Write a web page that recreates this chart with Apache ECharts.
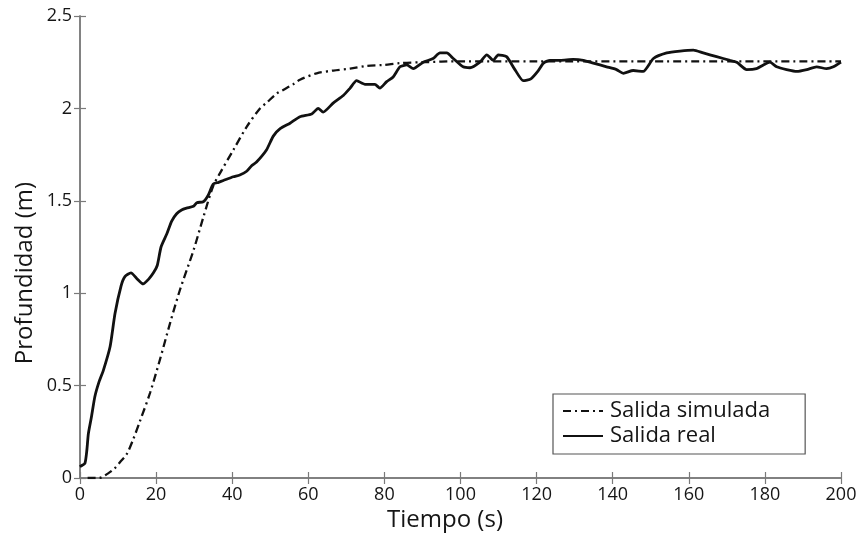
<!DOCTYPE html>
<html>
<head>
<meta charset="utf-8">
<script src="https://cdn.jsdelivr.net/npm/echarts@6/dist/echarts.min.js"></script>
<style>
html,body{margin:0;padding:0;background:#fff;}
#chart{width:863px;height:536px;}
</style>
</head>
<body>
<div id="chart"></div>
<script>
// Data
var timeReal = [0, 0.3, 1.3, 1.8, 2.2, 3, 3.9, 5, 6.1, 7.9, 9.2, 10.8, 11.8, 13.4, 14.9, 16.6, 18, 19.3, 20.3, 21.3, 22.8, 24.1, 25.4, 26.7, 28, 29.8, 30.7, 32.4, 33.7, 35, 36.4, 37.7, 40.3, 42, 43.8, 45.1, 46.4, 49, 50.8, 52.6, 55.2, 57.8, 60.9, 62.6, 63.9, 66.6, 69.2, 71, 72.7, 74.9, 77.5, 78.8, 80.6, 82.3, 84.1, 85.9, 87.6, 90.2, 92.8, 94.6, 96.4, 98.1, 100.7, 102.5, 105.1, 106.9, 108.6, 109.9, 112.1, 114.3, 116.5, 118.5, 120.3, 121.8, 123.5, 126.2, 129.6, 132.3, 134.9, 138.4, 141, 142.8, 145.4, 148, 150.7, 154.2, 157.7, 161.2, 163.8, 167.3, 170.8, 172.6, 175.2, 177.8, 179.6, 181.3, 183.1, 185.7, 188.4, 191, 193.6, 196.2, 198, 200];
var depthReal = [0.06, 0.065, 0.08, 0.15, 0.24, 0.33, 0.44, 0.52, 0.58, 0.71, 0.89, 1.04, 1.09, 1.11, 1.08, 1.05, 1.075, 1.11, 1.15, 1.25, 1.32, 1.39, 1.43, 1.45, 1.46, 1.47, 1.49, 1.495, 1.53, 1.59, 1.60, 1.61, 1.63, 1.64, 1.66, 1.69, 1.71, 1.775, 1.85, 1.89, 1.92, 1.955, 1.97, 2.0, 1.98, 2.03, 2.07, 2.11, 2.15, 2.13, 2.13, 2.11, 2.145, 2.17, 2.225, 2.235, 2.215, 2.25, 2.27, 2.30, 2.30, 2.27, 2.225, 2.22, 2.25, 2.29, 2.26, 2.29, 2.28, 2.21, 2.15, 2.16, 2.20, 2.245, 2.26, 2.26, 2.265, 2.26, 2.245, 2.225, 2.21, 2.19, 2.205, 2.20, 2.27, 2.30, 2.31, 2.315, 2.30, 2.28, 2.26, 2.25, 2.21, 2.215, 2.235, 2.25, 2.225, 2.21, 2.20, 2.21, 2.225, 2.215, 2.225, 2.25];
var timeSim = [2, 5, 7.4, 9, 10.5, 12.3, 14, 15.8, 18.4, 21, 23.7, 26.3, 29.8, 32.4, 35, 36.8, 40.3, 43.8, 47.3, 49, 51.7, 53.4, 56, 57.8, 62.2, 66.6, 71, 75.3, 79.7, 84.1, 90, 100, 120, 150, 200];
var depthSim = [0, 0, 0.025, 0.05, 0.085, 0.13, 0.21, 0.31, 0.46, 0.64, 0.84, 1.02, 1.23, 1.41, 1.58, 1.65, 1.775, 1.9, 2.0, 2.03, 2.08, 2.10, 2.13, 2.155, 2.19, 2.205, 2.215, 2.23, 2.235, 2.245, 2.25, 2.255, 2.255, 2.255, 2.255];
var seriesNames = ['Salida simulada', 'Salida real'];
var xTitle = 'Tiempo (s)';
var yTitle = 'Profundidad (m)';

function pairs(xs, ys) { return xs.map(function (x, i) { return [x, ys[i]]; }); }

var FONT = '"Open Sans", "Noto Sans", sans-serif';
var AX = '#7a7a7a';
var TXT = '#151515';
var chart = echarts.init(document.getElementById('chart'), null, {renderer: 'canvas'});
var axisCommon = {
  axisLine: {show: true, lineStyle: {color: AX, width: 1.5}},
  axisTick: {show: true, inside: true, length: 6, lineStyle: {color: AX, width: 1.2}},
  splitLine: {show: false}
};
chart.setOption({
  animation: false,
  backgroundColor: '#fff',
  grid: {left: 80, right: 22, top: 16, bottom: 58, containLabel: false},
  legend: {
    orient: 'vertical', left: 553, top: 394,
    padding: [6, 35, 7, 9],
    itemGap: 3, itemWidth: 40, itemHeight: 16,
    borderColor: '#555', borderWidth: 1.2,
    itemStyle: {opacity: 0},
    textStyle: {fontFamily: FONT, fontSize: 22, color: TXT, padding: [0, 0, 0, 2]},
    data: seriesNames
  },
  graphic: [
    {type: 'text', x: 445, y: 520, silent: true,
      style: {text: xTitle, font: '24px ' + FONT, fill: TXT, align: 'center', verticalAlign: 'middle'}},
    {type: 'text', x: 25, y: 273, rotation: Math.PI / 2, silent: true,
      style: {text: yTitle, font: '24px ' + FONT, fill: TXT, align: 'center', verticalAlign: 'middle'}}
  ],
  xAxis: [
    Object.assign({type: 'value', min: 0, max: 200, interval: 20, position: 'bottom',
      axisLabel: {fontFamily: FONT, fontSize: 18, color: TXT, margin: 8}}, axisCommon),
    Object.assign({type: 'value', min: 0, max: 200, interval: 20, position: 'top',
      axisLabel: {show: false}}, axisCommon)
  ],
  yAxis: [
    Object.assign({type: 'value', min: 0, max: 2.5, interval: 0.5, position: 'left',
      axisLabel: {fontFamily: FONT, fontSize: 18, color: TXT, margin: 8}}, axisCommon),
    Object.assign({type: 'value', min: 0, max: 2.5, interval: 0.5, position: 'right',
      axisLabel: {show: false}}, axisCommon)
  ],
  series: [
    {
      name: seriesNames[0], type: 'line', xAxisIndex: 0, yAxisIndex: 0,
      data: pairs(timeSim, depthSim), showSymbol: false, symbol: 'none', smooth: 0.3,
      lineStyle: {color: '#111', width: 2.3, type: [8, 4, 2, 4]},
      itemStyle: {color: '#111'}, z: 3
    },
    {
      name: seriesNames[1], type: 'line', xAxisIndex: 0, yAxisIndex: 0,
      data: pairs(timeReal, depthReal), showSymbol: false, symbol: 'none', smooth: 0.2,
      lineStyle: {color: '#111', width: 2.8, type: 'solid'},
      itemStyle: {color: '#111'}, z: 4
    }
  ]
});
</script>
</body>
</html>
